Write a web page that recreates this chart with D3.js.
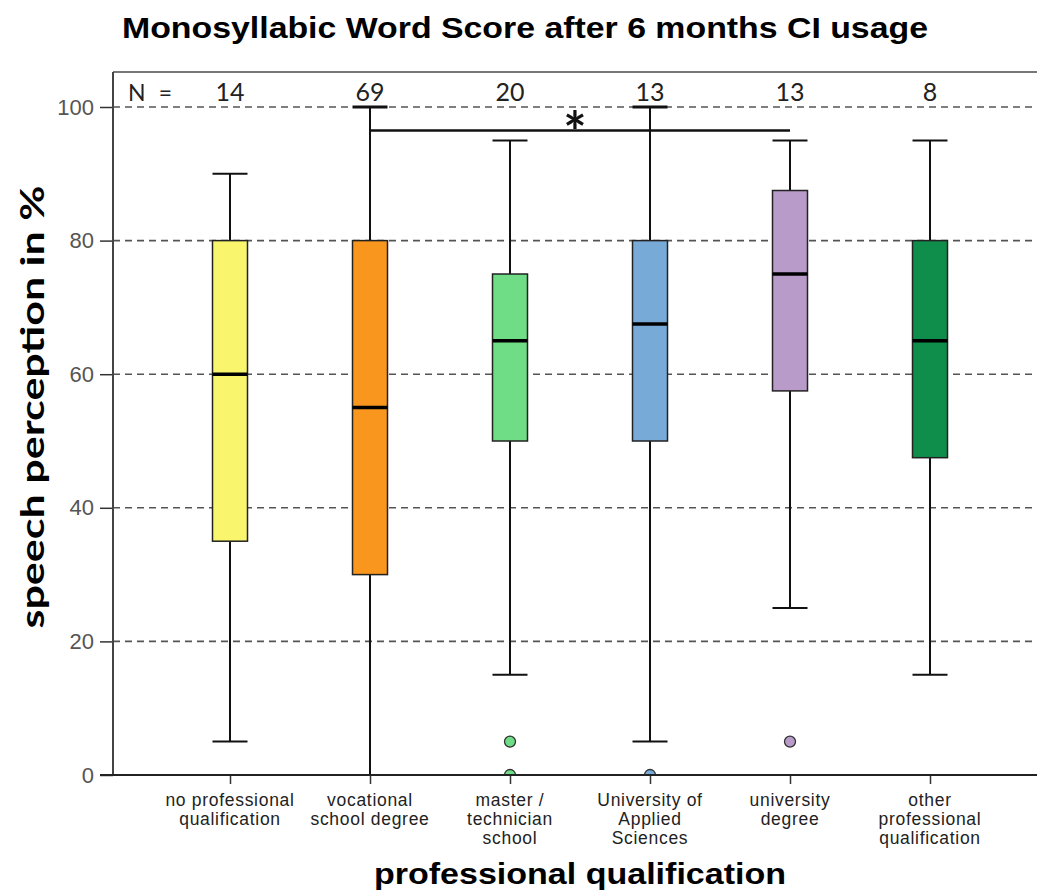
<!DOCTYPE html>
<html>
<head>
<meta charset="utf-8">
<script src="https://cdn.jsdelivr.net/npm/d3@7"></script>
<style>
  html, body { margin: 0; padding: 0; background: #fff; }
  svg { display: block; }
</style>
</head>
<body>
<svg id="chart" width="1037" height="890"></svg>
<script>
// Group labels (line-broken as printed under the axis)
const categories = [
  ["no professional", "qualification"],
  ["vocational", "school degree"],
  ["master /", "technician", "school"],
  ["University of", "Applied", "Sciences"],
  ["university", "degree"],
  ["other", "professional", "qualification"]
];
const groupN   = [14, 69, 20, 13, 13, 8];
const whiskLo  = [5, 0, 15, 5, 25, 15];
const q1       = [35, 30, 50, 50, 57.5, 47.5];
const medians  = [60, 55, 65, 67.5, 75, 65];
const q3       = [80, 80, 75, 80, 87.5, 80];
const whiskHi  = [90, 100, 95, 100, 95, 95];
const outliers = [[], [], [5, 0], [0], [5], []];
const colors   = ["#f9f66e", "#f8961e", "#6fdd85", "#78aad8", "#b89bc9", "#0f8d4a"];
const yTicks   = [0, 20, 40, 60, 80, 100];
// Significance bracket: between group 2 and group 5, at 96.5 %
const sigPair  = [1, 4];
const sigLevel = 96.5;

const svg = d3.select("#chart");
const plot = { left: 113, right: 1037, top: 72, bottom: 775 };

const y = d3.scaleLinear().domain([0, 100]).range([775, 107]);
const idx = d3.range(categories.length);
const x = d3.scalePoint().domain(idx).range([230, 930]);
const boxW = 35;

// Title
svg.append("text")
  .attr("x", 525).attr("y", 38)
  .attr("text-anchor", "middle")
  .attr("font-family", "Liberation Sans, Arial, sans-serif")
  .attr("font-weight", "bold").attr("font-size", 30)
  .attr("textLength", 806).attr("lengthAdjust", "spacingAndGlyphs")
  .text("Monosyllabic Word Score after 6 months CI usage");

// Gridlines
svg.append("g").selectAll("line").data(yTicks.filter(t => t > 0)).join("line")
  .attr("x1", plot.left).attr("x2", plot.right)
  .attr("y1", d => y(d)).attr("y2", d => y(d))
  .attr("stroke", "#555").attr("stroke-width", 1.6)
  .attr("stroke-dasharray", "7,5");

// Frame: top border
svg.append("line").attr("x1", plot.left).attr("x2", plot.right)
  .attr("y1", plot.top).attr("y2", plot.top)
  .attr("stroke", "#777").attr("stroke-width", 2);

// Y axis
const yAxis = d3.axisLeft(y).tickValues(yTicks).tickSize(13).tickPadding(6);
const gy = svg.append("g").attr("transform", `translate(${plot.left},0)`).call(yAxis);
gy.select(".domain").remove();
gy.selectAll(".tick line").attr("stroke", "#333").attr("stroke-width", 1.5);
gy.selectAll(".tick text")
  .attr("font-family", "Liberation Sans, Arial, sans-serif")
  .attr("font-size", 22).attr("fill", "#555");
svg.append("line").attr("x1", plot.left).attr("x2", plot.left)
  .attr("y1", plot.top).attr("y2", plot.bottom)
  .attr("stroke", "#444").attr("stroke-width", 2);

// Y title
svg.append("text")
  .attr("transform", "translate(44,407) rotate(-90)")
  .attr("text-anchor", "middle")
  .attr("font-family", "Lato, 'Open Sans', sans-serif")
  .attr("font-weight", "bold").attr("font-size", 33)
  .attr("textLength", 443).attr("lengthAdjust", "spacingAndGlyphs")
  .text("speech perception in %");

// Clip region for marks
svg.append("defs").append("clipPath").attr("id", "plotclip")
  .append("rect").attr("x", plot.left).attr("y", plot.top)
  .attr("width", plot.right - plot.left).attr("height", plot.bottom - plot.top);

const marks = svg.append("g").attr("clip-path", "url(#plotclip)");

const groups = marks.selectAll("g.box").data(idx).join("g").attr("class", "box");

// Whiskers
groups.append("line")
  .attr("x1", i => x(i)).attr("x2", i => x(i))
  .attr("y1", i => y(whiskHi[i])).attr("y2", i => y(q3[i]))
  .attr("stroke", "#111").attr("stroke-width", 2);
groups.append("line")
  .attr("x1", i => x(i)).attr("x2", i => x(i))
  .attr("y1", i => y(q1[i])).attr("y2", i => y(whiskLo[i]))
  .attr("stroke", "#111").attr("stroke-width", 2);
// Caps
groups.append("line")
  .attr("x1", i => x(i) - boxW / 2).attr("x2", i => x(i) + boxW / 2)
  .attr("y1", i => y(whiskHi[i])).attr("y2", i => y(whiskHi[i]))
  .attr("stroke", "#111").attr("stroke-width", i => whiskHi[i] === 100 ? 3 : 2);
groups.append("line")
  .attr("x1", i => x(i) - boxW / 2).attr("x2", i => x(i) + boxW / 2)
  .attr("y1", i => y(whiskLo[i])).attr("y2", i => y(whiskLo[i]))
  .attr("stroke", "#111").attr("stroke-width", 2);
// Boxes
groups.append("rect")
  .attr("x", i => x(i) - boxW / 2).attr("width", boxW)
  .attr("y", i => y(q3[i])).attr("height", i => y(q1[i]) - y(q3[i]))
  .attr("fill", i => colors[i])
  .attr("stroke", "#222").attr("stroke-width", 1.5);
// Medians
groups.append("line")
  .attr("x1", i => x(i) - boxW / 2).attr("x2", i => x(i) + boxW / 2)
  .attr("y1", i => y(medians[i])).attr("y2", i => y(medians[i]))
  .attr("stroke", "#000").attr("stroke-width", 3.5);
// Outliers
groups.each(function (i) {
  d3.select(this).selectAll("circle").data(outliers[i]).join("circle")
    .attr("cx", x(i)).attr("cy", v => y(v)).attr("r", 5.5)
    .attr("fill", colors[i]).attr("stroke", "#333").attr("stroke-width", 1.3);
});

// Bottom axis
const xAxis = d3.axisBottom(x).tickSize(9).tickFormat("");
const gx = svg.append("g").attr("transform", `translate(0,${plot.bottom})`).call(xAxis);
gx.select(".domain").remove();
gx.selectAll(".tick line").attr("stroke", "#333").attr("stroke-width", 1.5);
svg.append("line").attr("x1", plot.left - 13).attr("x2", plot.right)
  .attr("y1", plot.bottom).attr("y2", plot.bottom)
  .attr("stroke", "#222").attr("stroke-width", 2);

// Category labels
const catLabels = svg.append("g");
idx.forEach(i => {
  const t = catLabels.append("text")
    .attr("x", x(i)).attr("y", 806)
    .attr("text-anchor", "middle")
    .attr("font-family", "Liberation Sans, Arial, sans-serif")
    .attr("font-size", 17.5).attr("letter-spacing", 0.7).attr("fill", "#222");
  categories[i].forEach((line, k) => {
    t.append("tspan").attr("x", x(i)).attr("dy", k === 0 ? 0 : 19).text(line);
  });
});

// X title
svg.append("text")
  .attr("x", 580).attr("y", 884)
  .attr("text-anchor", "middle")
  .attr("font-family", "Liberation Sans, Arial, sans-serif")
  .attr("font-weight", "bold").attr("font-size", 30)
  .attr("textLength", 412).attr("lengthAdjust", "spacingAndGlyphs")
  .text("professional qualification");

// Group sizes
svg.append("text").attr("x", 128).attr("y", 101)
  .attr("font-family", "Lato, 'Open Sans', sans-serif").attr("font-size", 23)
  .attr("fill", "#222")
  .attr("textLength", 44).attr("lengthAdjust", "spacing")
  .text("N =");
svg.append("g").selectAll("text").data(idx).join("text")
  .attr("x", i => x(i)).attr("y", 101)
  .attr("text-anchor", "middle")
  .attr("font-family", "Lato, 'Open Sans', sans-serif").attr("font-size", 25)
  .attr("fill", "#222")
  .text(i => groupN[i]);

// Significance bracket
svg.append("line")
  .attr("x1", x(sigPair[0])).attr("x2", x(sigPair[1]))
  .attr("y1", y(sigLevel)).attr("y2", y(sigLevel))
  .attr("stroke", "#111").attr("stroke-width", 2.5);
svg.append("text")
  .attr("x", (x(sigPair[0]) + x(sigPair[1])) / 2 - 5).attr("y", y(sigLevel) + 22)
  .attr("text-anchor", "middle")
  .attr("font-family", "Lato, 'Open Sans', sans-serif")
  .attr("font-weight", "bold").attr("font-size", 55)
  .attr("fill", "#111").text("*");
</script>
</body>
</html>
